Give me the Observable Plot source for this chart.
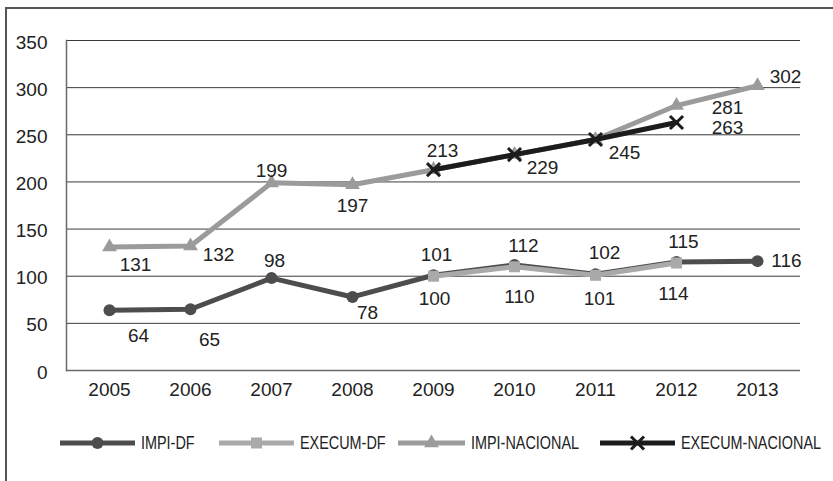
<!DOCTYPE html>
<html><head><meta charset="utf-8">
<script src="https://cdn.jsdelivr.net/npm/d3@7"></script>
<script src="https://cdn.jsdelivr.net/npm/@observablehq/plot@0.6"></script>
<style>
body{margin:0;background:#fff;}
#wrap{position:relative;width:833px;height:481px;overflow:hidden;font-family:"Liberation Sans",Arial,sans-serif;color:#222;}
#frame{position:absolute;left:5px;top:7px;width:900px;height:600px;border-top:2px solid #555;border-left:2px solid #555;box-sizing:border-box;pointer-events:none}
#chart svg{display:block}
#legend{position:relative;height:20px;margin-top:23px;font-size:18px;}
.item{position:absolute;top:0;height:20px;display:flex;align-items:center;white-space:nowrap}
.item span{margin-left:6px;line-height:20px;display:inline-block;transform:scaleX(0.8);transform-origin:left center}
</style></head>
<body>
<div id="wrap">
  <div id="chart"></div>
  <div id="legend"></div>
  <div id="frame"></div>
</div>
<script>
// ---- data ----
const years = ["2005","2006","2007","2008","2009","2010","2011","2012","2013"];
const impiDF    = [64, 65, 98, 78, 101, 112, 102, 115, 116];
const execumDF  = [null, null, null, null, 100, 110, 101, 114, null];
const impiNac   = [131, 132, 199, 197, 213, 229, 245, 281, 302];
const execumNac = [null, null, null, null, 213, 229, 245, 263, null];
const seriesNames = ["IMPI-DF", "EXECUM-DF", "IMPI-NACIONAL", "EXECUM-NACIONAL"];
const yTicks = [0, 50, 100, 150, 200, 250, 300, 350];

// ---- label placement (offsets from each point, as in the original) ----
const nudgeImpiDF    = [[29,26],[19,31],[3,-17],[15,16],[3,-20],[9,-19],[9,-21],[7,-20],[29,0]];
const nudgeExecumDF  = [null,null,null,null,[1,23],[5,30],[4,24],[-3,31],null];
const nudgeImpiNac   = [[26,18],[28,9],[0,-12],[0,21],[9,-19],[28,13],[29,13],[51,2],[28,-9]];
const nudgeExecumNac = [null,null,null,null,null,null,null,[51,5],null];

// ---- styles ----
const styles = {
  "IMPI-DF":        {color:"#4d4d4d", symbol:"circle",   r:6,   fill:true},
  "EXECUM-DF":      {color:"#a9a9a9", symbol:"square",   r:6.2, fill:true},
  "IMPI-NACIONAL":  {color:"#9b9b9b", symbol:"triangle", r:5.5, fill:true},
  "EXECUM-NACIONAL":{color:"#1c1c1c", symbol:"times",    r:6,   fill:false}
};

const allValues = [impiDF, execumDF, impiNac, execumNac];
const allNudges = [nudgeImpiDF, nudgeExecumDF, nudgeImpiNac, nudgeExecumNac];

const marks = [];
marks.push(Plot.ruleY(yTicks.filter(d => d > 0), {stroke:"#3a3a3a", strokeWidth:1}));
marks.push(Plot.ruleY([0], {stroke:"#6a6a6a", strokeWidth:1.5}));
marks.push(Plot.frame({anchor:"left", stroke:"#6a6a6a", strokeWidth:1.5}));
marks.push(Plot.axisY({ticks:yTicks, tickSize:0, tickPadding:19, label:null, fontSize:19, dy:2}));
marks.push(Plot.axisX({tickSize:0, tickPadding:12, label:null, fontSize:19}));

seriesNames.forEach((name, si) => {
  const st = styles[name];
  const data = years.map((y, i) => ({year:y, value:allValues[si][i]})).filter(d => d.value != null);
  marks.push(Plot.line(data, {x:"year", y:"value", stroke:st.color, strokeWidth:5, strokeLinejoin:"round"}));
  if (st.fill) {
    marks.push(Plot.dot(data, {x:"year", y:"value", symbol:()=>st.symbol, r:st.r, fill:st.color, stroke:"none"}));
  } else {
    marks.push(Plot.dot(data, {x:"year", y:"value", symbol:()=>st.symbol, r:st.r, stroke:st.color, strokeWidth:3, fill:"none"}));
  }
});
seriesNames.forEach((name, si) => {
  years.forEach((y, i) => {
    const v = allValues[si][i];
    const n = allNudges[si][i];
    if (v == null || n == null) return;
    marks.push(Plot.text([{year:y, value:v}], {x:"year", y:"value", text:d => String(d.value), dx:n[0], dy:n[1], fontSize:19, fill:"#222"}));
  });
});

const chart = Plot.plot({
  width: 833,
  height: 410,
  marginLeft: 66,
  marginRight: 33,
  marginTop: 40,
  marginBottom: 40,
  style: {fontFamily:"'Liberation Sans',Arial,sans-serif", fontSize:"19px", color:"#222", background:"transparent"},
  x: {type:"point", domain:years, padding:0.5},
  y: {domain:[0, 350]},
  marks
});
document.getElementById("chart").appendChild(chart);

// ---- legend ----
const legendLeft = [60, 219, 398, 600];
const legendWidth = [75, 75, 67, 75];
const legend = document.getElementById("legend");
seriesNames.forEach((name, i) => {
  const st = styles[name];
  const w = legendWidth[i];
  const item = document.createElement("div");
  item.className = "item";
  item.style.left = legendLeft[i] + "px";
  const svg = d3.create("svg").attr("width", w).attr("height", 20);
  svg.append("line").attr("x1", 0).attr("x2", w).attr("y1", 10).attr("y2", 10)
     .attr("stroke", st.color).attr("stroke-width", 5);
  const sym = {circle:d3.symbolCircle, square:d3.symbolSquare, triangle:d3.symbolTriangle, times:d3.symbolTimes}[st.symbol];
  const p = svg.append("path").attr("transform", `translate(${w/2},10)`)
     .attr("d", d3.symbol(sym, Math.PI * st.r * st.r)());
  if (st.fill) p.attr("fill", st.color); else p.attr("fill","none").attr("stroke", st.color).attr("stroke-width", 3);
  item.appendChild(svg.node());
  const s = document.createElement("span");
  s.textContent = name;
  item.appendChild(s);
  legend.appendChild(item);
});
</script>
</body></html>
